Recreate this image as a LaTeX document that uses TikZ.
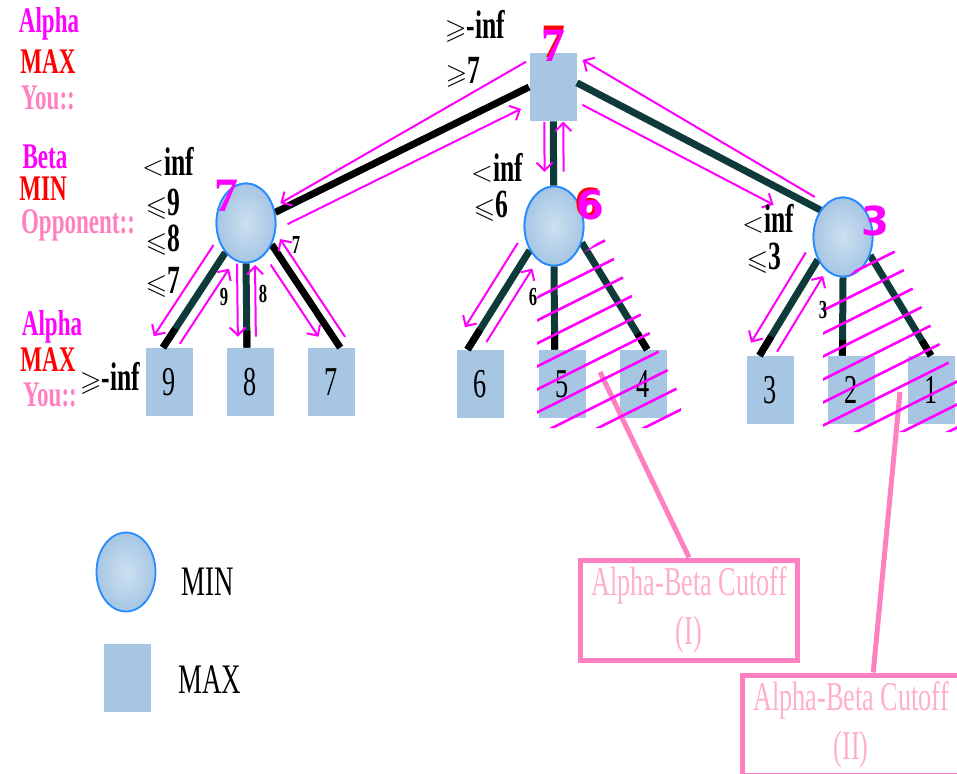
\documentclass[tikz,border=0pt]{standalone}
\usepackage{amssymb}
\usepackage{fontspec}
\setmainfont{Liberation Serif}[FakeStretch=0.64]
\newfontfamily\sevenfont{Liberation Serif}
\newfontfamily\digitfont{DejaVu Sans}
\usetikzlibrary{calc}
\usetikzlibrary{positioning}
\usetikzlibrary{shapes.geometric}
\usetikzlibrary{arrows.meta}

\definecolor{hotpink}{RGB}{255,0,255}
\definecolor{cutred}{RGB}{255,0,0}
\definecolor{softpink}{RGB}{255,128,192}
\definecolor{paleink}{RGB}{255,176,200}
\definecolor{skyfill}{RGB}{166,198,228}
\definecolor{skylight}{RGB}{205,224,240}
\definecolor{skyedge}{RGB}{40,140,255}
\definecolor{branchcol}{RGB}{14,58,58}

\newcommand{\lsym}[1]{{\fontsize{14}{14}\selectfont$#1$}}

\tikzset{
  minnode/.style={ellipse, draw=skyedge, line width=0.9pt, inner color=skylight, outer color=skyfill,
    minimum width=29.5pt, minimum height=39.5pt, inner sep=0pt},
  maxnode/.style={rectangle, fill=skyfill, minimum width=23.5pt, minimum height=34pt, inner sep=0pt,
    font=\fontsize{20.5}{20.5}\selectfont},
  branch/.style={line width=3.5pt, branchcol},
  tipline/.style={line width=3.5pt, black},
  flow/.style={hotpink, line width=1pt, -{Straight Barb[length=4pt,width=8pt]}},
  hatch/.style={hotpink, line width=1.3pt},
  callout/.style={softpink, line width=2.5pt},
  cutbox/.style={draw=softpink, line width=2.5pt, text=paleink, align=center,
    minimum width=108.5pt, minimum height=50pt, font=\fontsize{20.5}{24.5}\selectfont},
  rolename/.style={font=\fontsize{18}{18}\selectfont\bfseries, inner sep=0pt, text height=0.68em, text depth=0.04em, yshift=-1.5pt},
  bound/.style={font=\fontsize{20}{20}\selectfont\bfseries, inner sep=0pt, text height=0.66em, text depth=0.04em, yshift=-1.5pt},
  passval/.style={font=\fontsize{13}{13}\selectfont\bfseries, inner sep=1pt},
  keytext/.style={font=\fontsize{21}{21}\selectfont}
}

\begin{document}
\begin{tikzpicture}[x=0.5pt, y=-0.5pt]
		\useasboundingbox (0,0) rectangle (957,773);

		\node[maxnode] (root) at (553,87) {};
		\node[minnode] (lmin) at (246,223) {};
		\node[minnode] (mmin) at (554,226) {};
		\node[minnode] (rmin) at (843,237) {};

		\node[maxnode] (lf9) at (169,382) {9};
		\node[maxnode] (lf8) at (250,382) {8};
		\node[maxnode] (lf7) at (331,382) {7};
		\node[maxnode] (lf6) at (480,384) {6};
		\node[maxnode] (lf5) at (562,384) {5};
		\node[maxnode] (lf4) at (643,384) {4};
		\node[maxnode] (lf3) at (770,390) {3};
		\node[maxnode] (lf2) at (851,390) {2};
		\node[maxnode] (lf1) at (931,390) {1};

		% tree edges
		\path[draw, tipline] (root.west) -- (lmin.20);
		\path[draw, branch] (root) -- (mmin);
		\path[draw, branch] (root.10) -- (rmin.130);

		\path[draw, branch] (lmin.235) -- (lf9.100);
		\path[draw, tipline] ($(lmin.235)!0.8!(lf9.100)$) -- (lf9.100);
		\path[draw, branch] (lmin.south) -- (lf8.95);
		\path[draw, tipline] ($(lmin.south)!0.8!(lf8.95)$) -- (lf8.95);
		\path[draw, tipline] (lmin.-40) -- (lf7.75);

		\path[draw, branch] (mmin.225) -- (lf6.110);
		\path[draw, tipline] ($(mmin.225)!0.8!(lf6.110)$) -- (lf6.110);
		\path[draw, branch] (mmin.south) -- (lf5.102);
		\path[draw, tipline] ($(mmin.south)!0.8!(lf5.102)$) -- (lf5.102);
		\path[draw, branch] (mmin.-31) -- (lf4.83);
		\path[draw, tipline] ($(mmin.-31)!0.85!(lf4.83)$) -- (lf4.83);

		\path[draw, branch] (rmin.222) -- (lf3.107);
		\path[draw, tipline] ($(rmin.222)!0.8!(lf3.107)$) -- (lf3.107);
		\path[draw, branch] (rmin.south) -- (lf2.104);
		\path[draw, tipline] ($(rmin.south)!0.8!(lf2.104)$) -- (lf2.104);
		\path[draw, branch] (rmin.-34) -- (lf1.north);
		\path[draw, tipline] ($(rmin.-34)!0.85!(lf1.north)$) -- (lf1.north);

		\node[minnode] at (lmin) {};
		\node[minnode] at (mmin) {};
		\node[minnode] at (rmin) {};

		% search passes
		\draw[flow] ($(root.west)!-0.03!(lmin.20)!-12pt!90:(lmin.20)$) -- ($(root.west)!0.97!(lmin.20)!-3pt!90:(lmin.20)$);
		\draw[flow] ($(root.west)!0.98!(lmin.20)!8pt!90:(lmin.20)$) -- ($(root.west)!0.06!(lmin.20)!8pt!90:(lmin.20)$);
		\draw[flow] ($(root)!0.25!(mmin)!-4.5pt!90:(mmin)$) -- ($(root)!0.61!(mmin)!-4.5pt!90:(mmin)$);
		\draw[flow] ($(root)!0.61!(mmin)!5pt!90:(mmin)$) -- ($(root)!0.25!(mmin)!5pt!90:(mmin)$);
		\draw[flow] ($(root.10)!0.96!(rmin.130)!4.5pt!90:(rmin.130)$) -- ($(root.10)!-0.02!(rmin.130)!11.5pt!90:(rmin.130)$);
		\draw[flow] ($(root.10)!0.055!(rmin.130)!-8.5pt!90:(rmin.130)$) -- ($(root.10)!0.84!(rmin.130)!-8.5pt!90:(rmin.130)$);

		\draw[flow] ($(lmin.235)!0.0!(lf9.100)!-7pt!90:(lf9.100)$) -- ($(lmin.235)!0.96!(lf9.100)!-7pt!90:(lf9.100)$);
		\draw[flow] ($(lmin.235)!0.89!(lf9.100)!6pt!90:(lf9.100)$) -- ($(lmin.235)!0.1!(lf9.100)!6pt!90:(lf9.100)$);
		\draw[flow] ($(lmin.south)!0.0!(lf8.95)!-4.5pt!90:(lf8.95)$) -- ($(lmin.south)!0.87!(lf8.95)!-4.5pt!90:(lf8.95)$);
		\draw[flow] ($(lmin.south)!0.87!(lf8.95)!4.5pt!90:(lf8.95)$) -- ($(lmin.south)!0.02!(lf8.95)!4.5pt!90:(lf8.95)$);
		\draw[flow] ($(lmin.-40)!0.13!(lf7.75)!-6pt!90:(lf7.75)$) -- ($(lmin.-40)!0.83!(lf7.75)!-6pt!90:(lf7.75)$);
		\draw[flow] ($(lmin.-40)!0.95!(lf7.75)!5pt!90:(lf7.75)$) -- ($(lmin.-40)!0.0!(lf7.75)!5pt!90:(lf7.75)$);

		\draw[flow] ($(mmin.225)!0.0!(lf6.110)!-7pt!90:(lf6.110)$) -- ($(mmin.225)!0.85!(lf6.110)!-7pt!90:(lf6.110)$);
		\draw[flow] ($(mmin.225)!0.86!(lf6.110)!6pt!90:(lf6.110)$) -- ($(mmin.225)!0.12!(lf6.110)!6pt!90:(lf6.110)$);

		\draw[flow] ($(rmin.222)!0.0!(lf3.107)!-7pt!90:(lf3.107)$) -- ($(rmin.222)!0.94!(lf3.107)!-7pt!90:(lf3.107)$);
		\draw[flow] ($(rmin.222)!0.89!(lf3.107)!6.5pt!90:(lf3.107)$) -- ($(rmin.222)!0.1!(lf3.107)!6.5pt!90:(lf3.107)$);

		% cutoff notes
		\node[cutbox] (cutI) at (689,610) {Alpha-Beta Cutoff\\(I)};
		\node[cutbox] (cutII) at (851,725) {Alpha-Beta Cutoff\\(II)};
		\coordinate (cutmarkI) at (600,372);
		\coordinate (cutmarkII) at (900,392);
		\draw[callout] (cutmarkI) -- (cutI.north);
		\draw[callout] (cutmarkII) -- ($(cutII.north west)!0.6!(cutII.north east)$);

		% pruned branches
		\begin{scope}
			\clip (537,297) -- (580,255) -- (604,238) -- (681,398) -- (681,428) -- (537,428) -- cycle;
			\foreach \k in {0,...,11}
				\draw[hatch] (520,{260+23*\k}) -- (720,{160+23*\k});
		\end{scope}
		\begin{scope}
			\clip (823,300) -- (868,258) -- (893,248) -- (957,380) -- (957,432) -- (823,432) -- cycle;
			\foreach \k in {-2,...,8}
				\draw[hatch] (800,{322+23*\k}) -- (1000,{222+23*\k});
		\end{scope}

		% values
		\node[text=cutred, font=\sevenfont\fontsize{24}{24}\selectfont\bfseries] (rootvalshadow) at (553,42) {7};
		\node[text=hotpink, font=\sevenfont\fontsize{24}{24}\selectfont\bfseries] (rootval) at (553,46) {7};
		\node[text=hotpink, font=\sevenfont\fontsize{24}{24}\selectfont\bfseries] (lminval) at (226,196) {7};
		\node[text=cutred, font=\digitfont\fontsize{20}{20}\selectfont\bfseries] (mminvalshadow) at (588,203) {6};
		\node[text=hotpink, font=\digitfont\fontsize{20}{20}\selectfont\bfseries] (mminval) at (590,205) {6};
		\node[text=hotpink, font=\digitfont\fontsize{20}{20}\selectfont\bfseries] (rminval) at (875,221) {3};

		\node[bound] (rootlow) at (475,29) {\lsym{\geqslant}-inf};
		\node[bound] (roothigh) at (463,74) {\lsym{\geqslant}7};
		\node[bound] (linf) at (168,166) {\lsym{<}inf};
		\node[bound] (lnine) at (163,206) {\lsym{\leqslant}9};
		\node[bound] (leight) at (163,242) {\lsym{\leqslant}8};
		\node[bound] (lseven) at (163,284) {\lsym{\leqslant}7};
		\node[bound] (minf) at (497,172) {\lsym{<}inf};
		\node[bound] (msix) at (491,208) {\lsym{\leqslant}6};
		\node[bound] (rinf) at (768,223) {\lsym{<}inf};
		\node[bound] (rthree) at (764,260) {\lsym{\leqslant}3};
		\node[bound] (leafinf) at (110,381) {\lsym{\geqslant}-inf};

		\node[passval] (pnine) at (224,297) {9};
		\node[passval] (peight) at (263,294) {8};
		\node[passval] (pseven) at (296,245) {7};
		\node[passval] (psix) at (533,297) {6};
		\node[passval] (pthree) at (823,310) {3};

		% players
		\node[rolename, text=hotpink] (alphatop) at (49,23) {Alpha};
		\node[rolename, text=cutred] (maxtop) at (48,64) {MAX};
		\node[rolename, text=softpink] (youtop) at (48,100) {You::};
		\node[rolename, text=hotpink] (betamid) at (45,159) {Beta};
		\node[rolename, text=cutred] (minmid) at (43,191) {MIN};
		\node[rolename, text=softpink] (opponentmid) at (78,224) {Opponent::};
		\node[rolename, text=hotpink] (alphalow) at (52,326) {Alpha};
		\node[rolename, text=cutred] (maxlow) at (48,362) {MAX};
		\node[rolename, text=softpink] (youlow) at (50,397) {You::};

		% legend
		\node[minnode] (keymin) at (126,572) {};
		\node[keytext] (keymintext) at (208,582) {MIN};
		\node[maxnode] (keymax) at (127,678) {};
		\node[keytext] (keymaxtext) at (210,680) {MAX};
\end{tikzpicture}
\end{document}
